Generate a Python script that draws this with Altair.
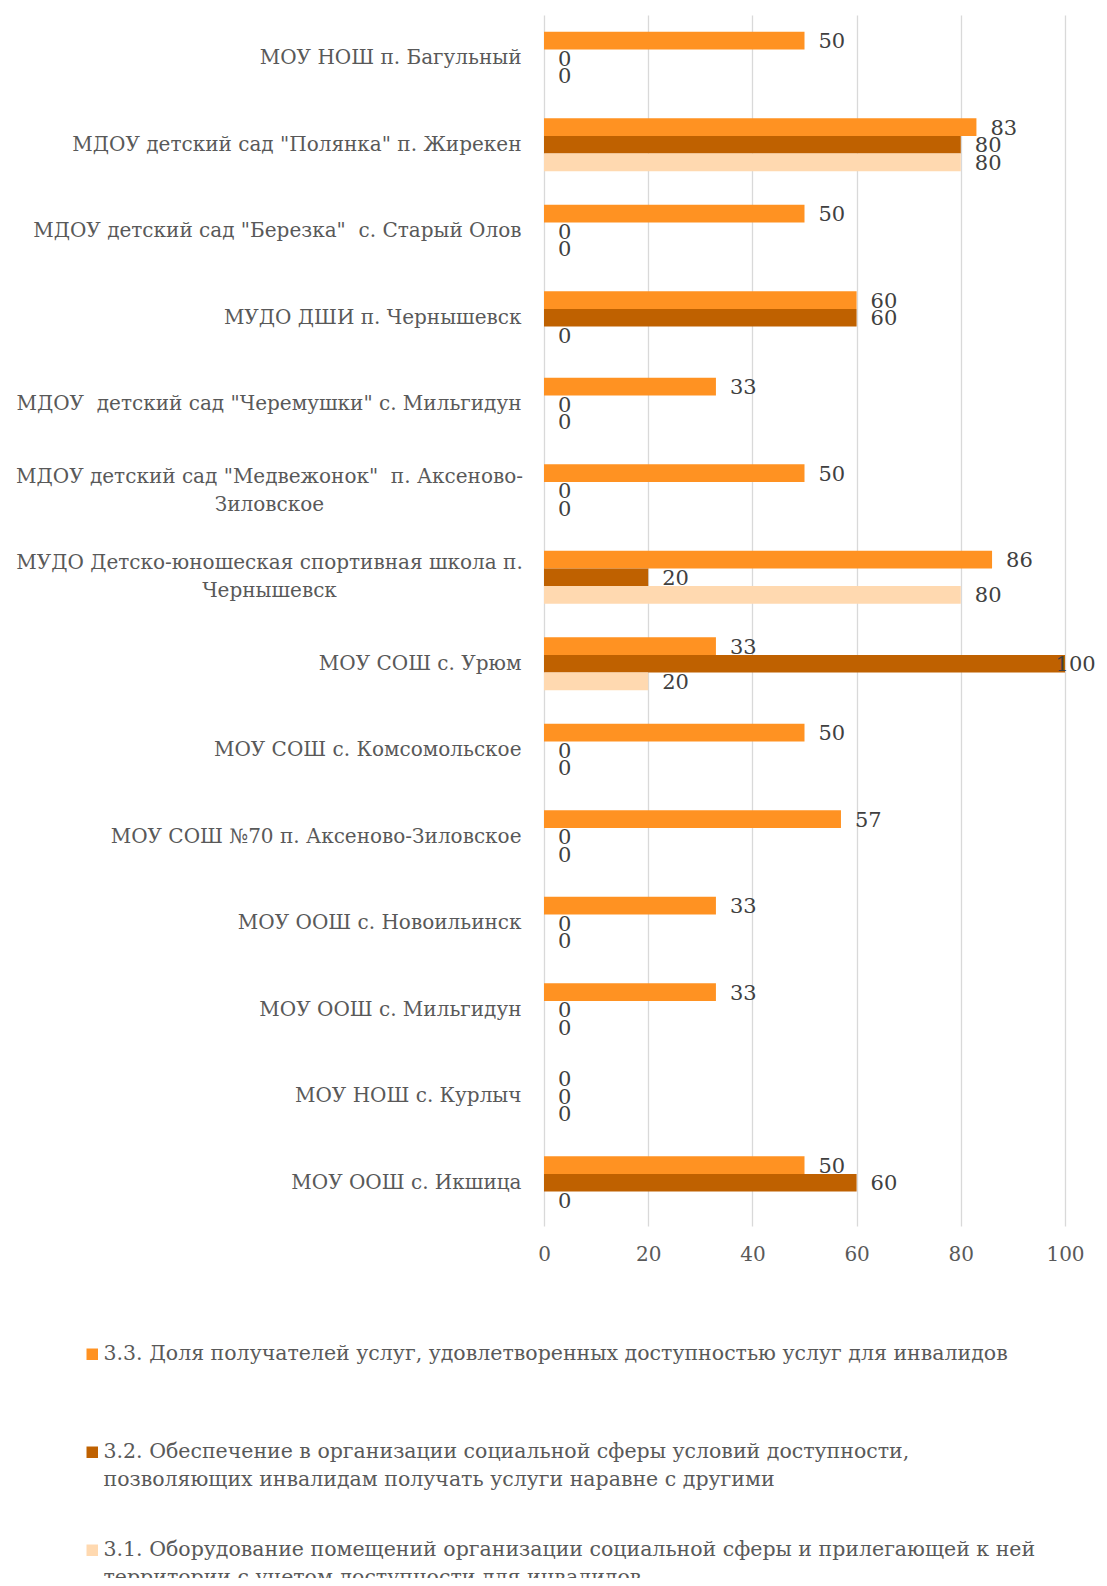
import altair as alt
import pandas as pd

categories = [
    "МОУ НОШ п. Багульный",
    'МДОУ детский сад "Полянка" п. Жирекен',
    'МДОУ детский сад "Березка"  с. Старый Олов',
    "МУДО ДШИ п. Чернышевск",
    'МДОУ  детский сад "Черемушки" с. Мильгидун',
    'МДОУ детский сад "Медвежонок"  п. Аксеново-\nЗиловское',
    "МУДО Детско-юношеская спортивная школа п.\nЧернышевск",
    "МОУ СОШ с. Урюм",
    "МОУ СОШ с. Комсомольское",
    "МОУ СОШ №70 п. Аксеново-Зиловское",
    "МОУ ООШ с. Новоильинск",
    "МОУ ООШ с. Мильгидун",
    "МОУ НОШ с. Курлыч",
    "МОУ ООШ с. Икшица",
]

series_names = [
    "3.3. Доля получателей услуг, удовлетворенных доступностью услуг для инвалидов",
    "3.2. Обеспечение в организации социальной сферы условий доступности,\nпозволяющих инвалидам получать услуги наравне с другими",
    "3.1. Оборудование помещений организации социальной сферы и прилегающей к ней\nтерритории с учетом доступности для инвалидов",
]

s33 = [50, 83, 50, 60, 33, 50, 86, 33, 50, 57, 33, 33, 0, 50]
s32 = [0, 80, 0, 60, 0, 0, 20, 100, 0, 0, 0, 0, 0, 60]
s31 = [0, 80, 0, 0, 0, 0, 80, 20, 0, 0, 0, 0, 0, 0]

colors = ["#FF9222", "#BF6100", "#FFD9B0"]
x_ticks = [0, 20, 40, 60, 80, 100]

rows = []
for name, vals in zip(series_names, [s33, s32, s31]):
    for c, v in zip(categories, vals):
        rows.append({"category": c, "series": name, "value": v})
df = pd.DataFrame(rows)

FONT = "DejaVu Serif"
FS = 20
MULTI = "indexof(datum.label, '\\n') >= 0"

y_enc = alt.Y(
    "category:N",
    sort=categories,
    scale=alt.Scale(paddingInner=0.39, paddingOuter=0.195),
    axis=alt.Axis(
        title=None,
        ticks=False,
        domain=False,
        labelPadding={"condition": {"test": MULTI, "value": 275}, "value": 23},
        labelAlign={"condition": {"test": MULTI, "value": "center"}, "value": "right"},
        labelOffset={"condition": {"test": MULTI, "value": -14}, "value": 0},
        labelLimit=1000,
        labelFontSize=FS,
        labelColor="#595959",
        labelExpr="split(replace(datum.label, regexp('  ', 'g'), ' \u00a0'), '\\n')",
    ),
)
yoff = alt.YOffset("series:N", sort=series_names)

base = alt.Chart(df)

bars = base.mark_bar().encode(
    y=y_enc,
    yOffset=yoff,
    x=alt.X(
        "value:Q",
        scale=alt.Scale(domain=[0, 100], nice=False),
        axis=alt.Axis(
            title=None,
            values=x_ticks,
            grid=True,
            gridColor="#D9D9D9",
            gridWidth=1.3,
            domain=False,
            ticks=False,
            labelFlush=False,
            labelPadding=18,
            labelFontSize=FS,
            labelColor="#595959",
        ),
    ),
    color=alt.Color(
        "series:N",
        sort=series_names,
        scale=alt.Scale(domain=series_names, range=colors),
        legend=alt.Legend(
            title=None,
            orient="none",
            direction="vertical",
            legendX=-462,
            legendY=1329,
            symbolType="square",
            symbolSize=132,
            symbolStrokeWidth=0,
            labelFontSize=20.5,
            labelColor="#595959",
            labelLimit=1200,
            labelOffset=1,
            rowPadding=49,
            labelExpr="[split(datum.label, '\\n')[0], length(split(datum.label, '\\n')) > 1 ? split(datum.label, '\\n')[1] : '']",
        ),
    ),
)

labels = base.transform_calculate(
    lx="min(datum.value, 95.5)"
).mark_text(align="left", baseline="middle", dx=14, dy=1.5, fontSize=FS + 1, color="#404040").encode(
    y=alt.Y("category:N", sort=categories),
    yOffset=yoff,
    x=alt.X("lx:Q"),
    text=alt.Text("value:Q"),
)

chart = (
    alt.layer(bars, labels)
    .properties(
        width=521,
        height=1211,
        autosize=alt.AutoSizeParams(type="none"),
        padding={"left": 536, "top": 7, "right": 34, "bottom": 352},
    )
    .configure(font=FONT, style={"guide-label": {"lineHeight": 28}})
    .configure_view(stroke=None)
)

chart.save("out.html", embed_options={"renderer": "svg", "actions": False})
